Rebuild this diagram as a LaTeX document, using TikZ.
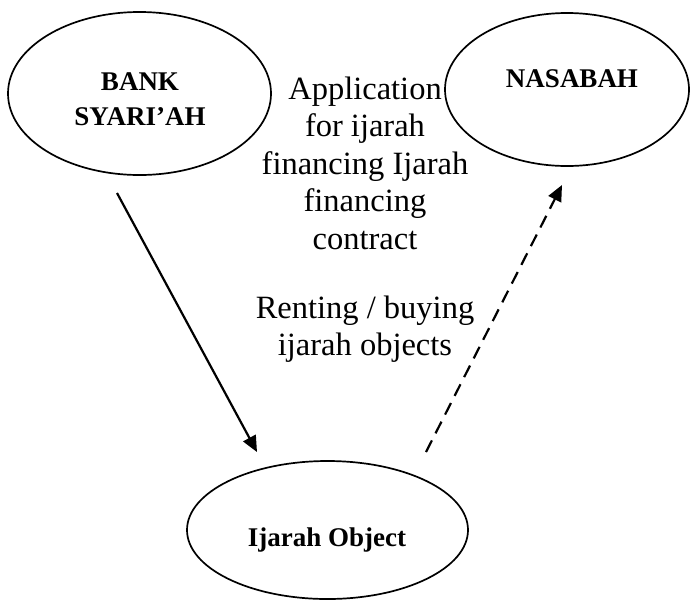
\documentclass[tikz,border=0pt]{standalone}
\usepackage{fontspec}
\setmainfont{Liberation Serif}
\usetikzlibrary{shapes.geometric, arrows.meta}
\tikzset{
entity/.style={draw, ellipse, line width=1.7pt, inner sep=0pt}, % the three parties
party/.style={font=\bfseries\fontsize{27}{35}\selectfont, align=center}, % names inside the ellipses
note/.style={font=\fontsize{32.5}{37.5}\selectfont, align=center}, % the free labels
flow/.style={line width=2.2pt, -{Triangle[length=16pt, width=14pt]}}, % the connectors
}

\begin{document}
\begin{tikzpicture}[x=1pt, y=-1pt]
  \useasboundingbox (0,0) rectangle (692,600);

  % Parties
  \node[entity, minimum width=263pt, minimum height=163pt] (bank) at (139.5,93.5) {};
  \node[entity, minimum width=244pt, minimum height=153pt] (nasabah) at (567,89.5) {};
  \node[entity, minimum width=281pt, minimum height=138pt] (object) at (327.5,530) {};

  \node[party] (banktext) at (140,99.5) {BANK\\SYARI'AH};
  \node[party] (nasabahtext) at (572,79) {NASABAH};
  \node[party] (objecttext) at (327,540) {Ijarah Object};

  % Labels
  \node[note] (contract) at (365,163) {Application\\for ijarah\\financing Ijarah\\financing\\contract};
  \node[note] (renting) at (365,329) {Renting / buying\\ijarah objects};

  % Connectors
  \coordinate (bankout) at (117,193);
  \coordinate (objectin) at (257,452);
  \coordinate (objectout) at (426,452);
  \coordinate (nasabahin) at (562,185);

  \draw[flow] (bankout) -- (objectin);
  \draw[flow, dash pattern=on 13pt off 8pt] (objectout) -- (nasabahin);
\end{tikzpicture}
\end{document}
